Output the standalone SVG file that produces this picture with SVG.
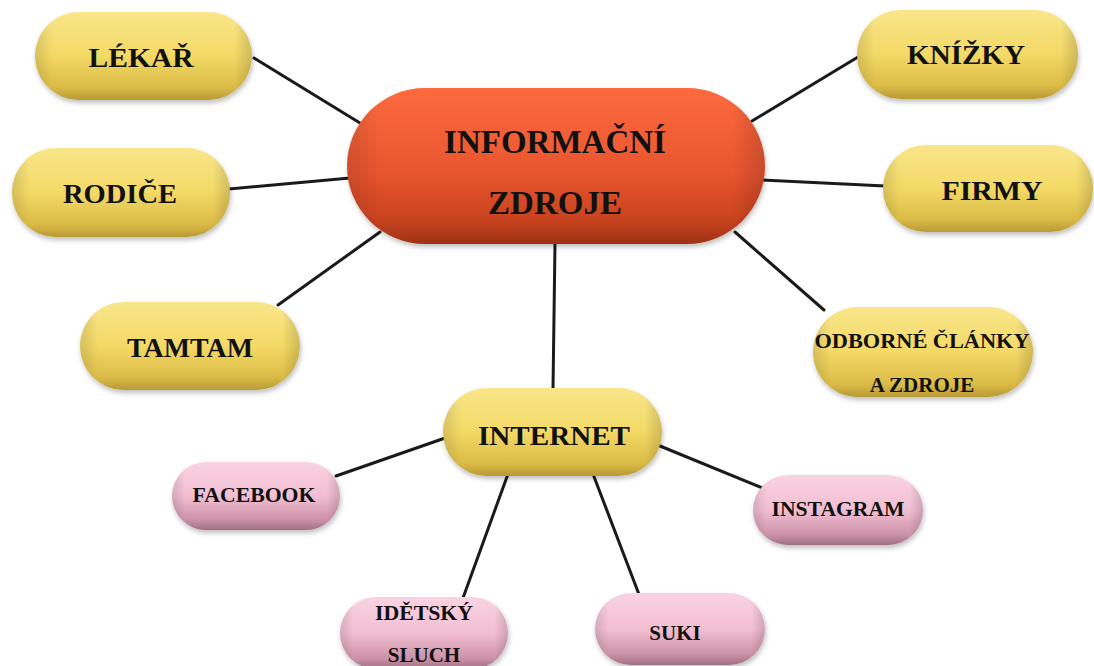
<svg xmlns="http://www.w3.org/2000/svg" width="1094" height="666" viewBox="0 0 1094 666">
<defs>
<linearGradient id="gy" x1="0" y1="0" x2="0" y2="1">
<stop offset="0" stop-color="#f9e68a"/>
<stop offset="0.5" stop-color="#f3d966"/>
<stop offset="0.85" stop-color="#dcbc48"/>
<stop offset="1" stop-color="#b99a35"/>
</linearGradient>
<linearGradient id="go" x1="0" y1="0" x2="0" y2="1">
<stop offset="0" stop-color="#fd6a3e"/>
<stop offset="0.55" stop-color="#e9552f"/>
<stop offset="0.85" stop-color="#c7421f"/>
<stop offset="1" stop-color="#9e3116"/>
</linearGradient>
<linearGradient id="gp" x1="0" y1="0" x2="0" y2="1">
<stop offset="0" stop-color="#fad3e2"/>
<stop offset="0.5" stop-color="#f2bfd2"/>
<stop offset="0.85" stop-color="#cc92a8"/>
<stop offset="1" stop-color="#a06f82"/>
</linearGradient>
<linearGradient id="edge" x1="0" y1="0" x2="1" y2="0">
<stop offset="0" stop-color="#000" stop-opacity="0.12"/>
<stop offset="0.08" stop-color="#000" stop-opacity="0"/>
<stop offset="0.92" stop-color="#000" stop-opacity="0"/>
<stop offset="1" stop-color="#000" stop-opacity="0.15"/>
</linearGradient>
<filter id="sh" x="-10%" y="-10%" width="120%" height="130%">
<feDropShadow dx="1" dy="3" stdDeviation="2.5" flood-color="#000" flood-opacity="0.25"/>
</filter>
<style>
.y{fill:url(#gy);filter:url(#sh)}
.o{fill:url(#go);filter:url(#sh)}
.p{fill:url(#gp);filter:url(#sh)}
.e{fill:url(#edge)}
text{font-family:"Liberation Serif","Times New Roman",serif;font-weight:bold;fill:#111;text-anchor:middle}
.t1{font-size:27px}
.t0{font-size:33px}
.t2{font-size:21px}
.c line{stroke:#1a1a1a;stroke-width:3;stroke-linecap:round}
</style>
</defs>
<rect width="1094" height="666" fill="#fff"/>
<g class="c" id="connectors">
<line x1="254" y1="58" x2="360" y2="123"/>
<line x1="229" y1="189" x2="350" y2="178"/>
<line x1="278" y1="305" x2="380" y2="232"/>
<line x1="858" y1="57" x2="752" y2="121"/>
<line x1="762" y1="180" x2="885" y2="186"/>
<line x1="735" y1="232" x2="824" y2="310"/>
<line x1="555" y1="243" x2="553" y2="390"/>
<line x1="448" y1="437" x2="336" y2="476"/>
<line x1="508" y1="474" x2="463" y2="598"/>
<line x1="593" y1="474" x2="640" y2="597"/>
<line x1="660" y1="446" x2="770" y2="491"/>
</g>
<g id="n-center">
<rect class="o" x="347" y="88" width="418" height="156" rx="78"/>
<rect class="e" x="347" y="88" width="418" height="156" rx="78"/>
<text class="t0" x="555" y="153">INFORMAČNÍ</text>
<text class="t0" x="555" y="214">ZDROJE</text>
</g>
<g id="n-lekar">
<rect class="y" x="35" y="12" width="217" height="88" rx="44"/>
<rect class="e" x="35" y="12" width="217" height="88" rx="44"/>
<text class="t1" x="141" y="67" textLength="105" lengthAdjust="spacingAndGlyphs">LÉKAŘ</text>
</g>
<g id="n-rodice">
<rect class="y" x="12" y="148" width="218" height="89" rx="44"/>
<rect class="e" x="12" y="148" width="218" height="89" rx="44"/>
<text class="t1" x="120" y="203" textLength="114" lengthAdjust="spacingAndGlyphs">RODIČE</text>
</g>
<g id="n-tamtam">
<rect class="y" x="80" y="302" width="220" height="88" rx="44"/>
<rect class="e" x="80" y="302" width="220" height="88" rx="44"/>
<text class="t1" x="190" y="357" textLength="126" lengthAdjust="spacingAndGlyphs">TAMTAM</text>
</g>
<g id="n-knizky">
<rect class="y" x="857" y="10" width="221" height="89" rx="44"/>
<rect class="e" x="857" y="10" width="221" height="89" rx="44"/>
<text class="t1" x="966" y="64" textLength="118" lengthAdjust="spacingAndGlyphs">KNÍŽKY</text>
</g>
<g id="n-firmy">
<rect class="y" x="883" y="145" width="210" height="87" rx="43"/>
<rect class="e" x="883" y="145" width="210" height="87" rx="43"/>
<text class="t1" x="992" y="200" textLength="101" lengthAdjust="spacingAndGlyphs">FIRMY</text>
</g>
<g id="n-odborne">
<rect class="y" x="813" y="307" width="220" height="90" rx="45"/>
<rect class="e" x="813" y="307" width="220" height="90" rx="45"/>
<text class="t2" x="922" y="348" textLength="215" lengthAdjust="spacingAndGlyphs">ODBORNÉ ČLÁNKY</text>
<text class="t2" x="922" y="392">A ZDROJE</text>
</g>
<g id="n-internet">
<rect class="y" x="443" y="388" width="219" height="88" rx="44"/>
<rect class="e" x="443" y="388" width="219" height="88" rx="44"/>
<text class="t1" x="554" y="445" textLength="152" lengthAdjust="spacingAndGlyphs">INTERNET</text>
</g>
<g id="n-facebook">
<rect class="p" x="172" y="462" width="168" height="68" rx="34"/>
<rect class="e" x="172" y="462" width="168" height="68" rx="34"/>
<text class="t2" x="254" y="502" textLength="123" lengthAdjust="spacingAndGlyphs">FACEBOOK</text>
</g>
<g id="n-instagram">
<rect class="p" x="753" y="475" width="170" height="70" rx="35"/>
<rect class="e" x="753" y="475" width="170" height="70" rx="35"/>
<text class="t2" x="838" y="516" textLength="133" lengthAdjust="spacingAndGlyphs">INSTAGRAM</text>
</g>
<g id="n-idetsky">
<rect class="p" x="340" y="597" width="168" height="72" rx="36"/>
<rect class="e" x="340" y="597" width="168" height="72" rx="36"/>
<text class="t2" x="424" y="620" textLength="98" lengthAdjust="spacingAndGlyphs">IDĚTSKÝ</text>
<text class="t2" x="424" y="662">SLUCH</text>
</g>
<g id="n-suki">
<rect class="p" x="595" y="593" width="170" height="72" rx="36"/>
<rect class="e" x="595" y="593" width="170" height="72" rx="36"/>
<text class="t2" x="675" y="640">SUKI</text>
</g>
</svg>
